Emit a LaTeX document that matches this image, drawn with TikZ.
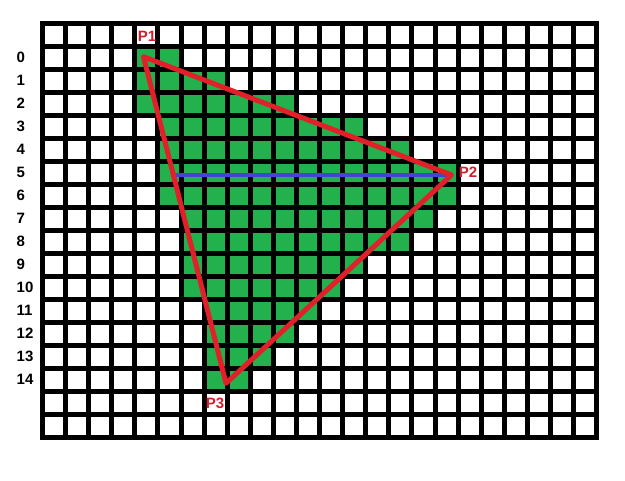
\documentclass[tikz,border=0pt]{standalone}
\usepackage{fontspec}
\setmainfont{Liberation Sans}
\definecolor{gridgreen}{RGB}{34,177,76}
\definecolor{trired}{RGB}{226,32,42}
\definecolor{scanblue}{RGB}{63,72,204}
\definecolor{labred}{RGB}{205,32,44}
\begin{document}
\begin{tikzpicture}[x=1pt,y=-1pt,
  rowlab/.style={anchor=west,inner sep=0pt,font=\fontsize{15}{15}\selectfont\bfseries},
  plab/.style={inner sep=0pt,text=labred,font=\fontsize{15}{15}\selectfont\bfseries},
  edge/.style={draw=trired,line width=5pt,line join=round},
  scan/.style={draw=scanblue,line width=4.5pt}]
\useasboundingbox (0,0) rectangle (625,481);
\fill[white] (0,0) rectangle (625,481);
\fill[black] (40,21) rectangle (599,440.5);
\foreach \i in {0,...,23}{
  \foreach \j in {0,...,17}{
    \fill[white] ({45+23.09*\i},{26+23.02*\j}) rectangle ++(18.1,18.1);
  }
}
\foreach \r/\a/\b in {0/4/5,1/4/7,2/4/10,3/5/13,4/5/15,5/5/17,6/5/17,7/6/16,8/6/15,9/6/13,10/6/12,11/7/11,12/7/10,13/7/9,14/7/8}{
  \foreach \i in {\a,...,\b}{
    \fill[gridgreen] ({45+23.09*\i},{26+23.02*(\r+1)}) rectangle ++(18.1,18.1);
  }
}
\foreach \r in {0,...,14}{
  \node[rowlab] (row\r) at (16.5,{57.5+23.02*\r}) {\r};
}
\coordinate (P1) at (143.5,56.7);
\coordinate (P2) at (451.5,175);
\coordinate (P3) at (226,383.3);
\coordinate (B) at (173.3,175);
\draw[scan] (B) -- (P2);
\draw[edge] (P1) -- (P2) -- (P3) -- cycle;
\node[plab] (l1) at (147,36) {P1};
\node[plab] (l2) at (468,172.5) {P2};
\node[plab] (l3) at (215,403.5) {P3};
\end{tikzpicture}
\end{document}
